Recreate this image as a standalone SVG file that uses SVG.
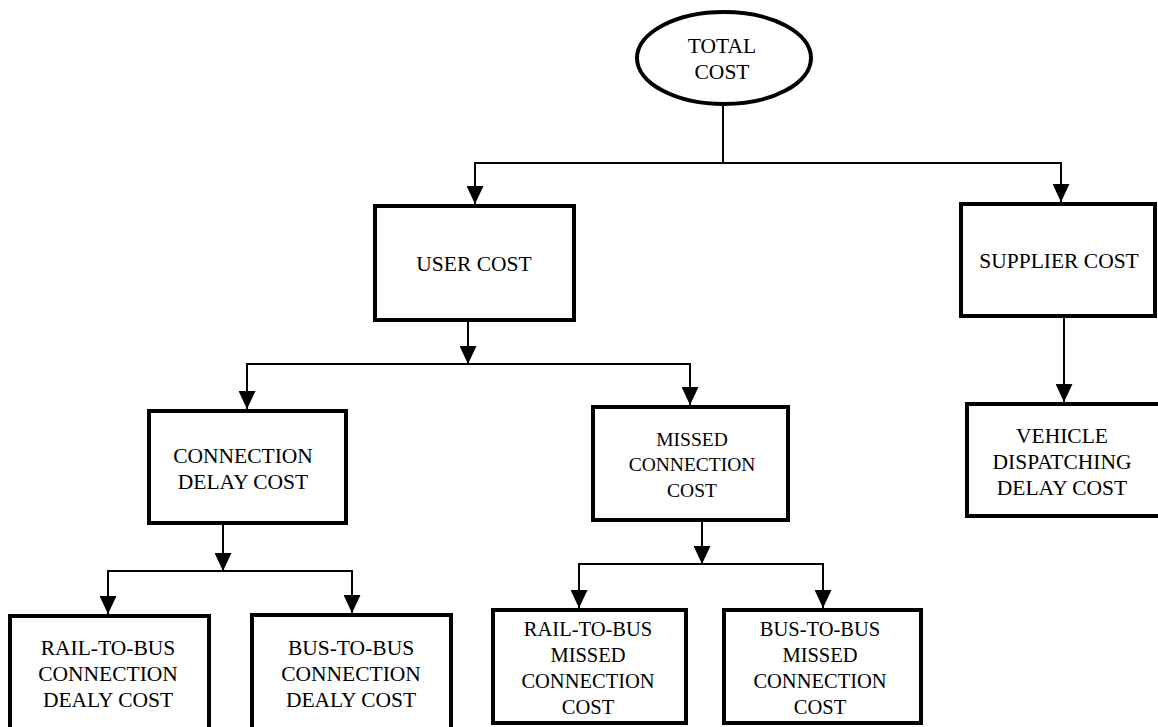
<svg xmlns="http://www.w3.org/2000/svg" width="1158" height="727" viewBox="0 0 1158 727" font-family="'Liberation Serif', 'Times New Roman', Times, serif">
  <style>
    .box { fill: #ffffff; stroke: #000000; stroke-width: 4; }
    .wire { fill: none; stroke: #000000; stroke-width: 2; }
    text { font-family: 'Liberation Serif', 'Times New Roman', Times, serif; }
    .lbl { font-size: 21.5px; fill: #000000; text-anchor: middle; }
    .sm { font-size: 19.5px; }
    .md { font-size: 20.5px; }
  </style>
  <defs>
    <marker id="arrow" viewBox="0 0 18 17" refX="18" refY="8.5" markerWidth="18" markerHeight="17" markerUnits="userSpaceOnUse" orient="auto">
      <path d="M0,0 L18,8.5 L0,17 z" fill="#000000"/>
    </marker>
  </defs>
  <rect width="1158" height="727" fill="#ffffff"/>

  <!-- connectors -->
  <g id="connectors">
    <path class="wire" d="M723,106 V163"/>
    <path class="wire" d="M723,163 H475 V204" marker-end="url(#arrow)"/>
    <path class="wire" d="M723,163 H1061 V202" marker-end="url(#arrow)"/>

    <path class="wire" d="M468,322 V364" marker-end="url(#arrow)"/>
    <path class="wire" d="M468,364 H247 V409" marker-end="url(#arrow)"/>
    <path class="wire" d="M468,364 H690 V405" marker-end="url(#arrow)"/>

    <path class="wire" d="M223,525 V571" marker-end="url(#arrow)"/>
    <path class="wire" d="M223,571 H108 V614" marker-end="url(#arrow)"/>
    <path class="wire" d="M223,571 H352 V613" marker-end="url(#arrow)"/>

    <path class="wire" d="M702,522 V564" marker-end="url(#arrow)"/>
    <path class="wire" d="M702,564 H579 V608" marker-end="url(#arrow)"/>
    <path class="wire" d="M702,564 H823 V608" marker-end="url(#arrow)"/>

    <path class="wire" d="M1064,318 V402" marker-end="url(#arrow)"/>
  </g>

  <!-- nodes -->
  <g id="total-cost">
    <ellipse class="box" cx="724" cy="58" rx="87" ry="46"/>
    <text class="lbl" x="722" y="53">TOTAL</text>
    <text class="lbl" x="722" y="79">COST</text>
  </g>

  <g id="user-cost">
    <rect class="box" x="375" y="206" width="199" height="114"/>
    <text class="lbl" x="474" y="271">USER COST</text>
  </g>

  <g id="supplier-cost">
    <rect class="box" x="961" y="204" width="194" height="112"/>
    <text class="lbl" x="1059" y="268">SUPPLIER COST</text>
  </g>

  <g id="vehicle-dispatching-delay-cost">
    <rect class="box" x="967" y="404" width="210" height="112"/>
    <text class="lbl" x="1062" y="443">VEHICLE</text>
    <text class="lbl" x="1062" y="469">DISPATCHING</text>
    <text class="lbl" x="1062" y="495">DELAY COST</text>
  </g>

  <g id="connection-delay-cost">
    <rect class="box" x="149" y="411" width="197" height="112"/>
    <text class="lbl" x="243" y="463">CONNECTION</text>
    <text class="lbl" x="243" y="489">DELAY COST</text>
  </g>

  <g id="missed-connection-cost">
    <rect class="box" x="593" y="407" width="195" height="113"/>
    <text class="lbl sm" x="692" y="446">MISSED</text>
    <text class="lbl sm" x="692" y="471">CONNECTION</text>
    <text class="lbl sm" x="692" y="497">COST</text>
  </g>

  <g id="rail-to-bus-connection-delay-cost">
    <rect class="box" x="10" y="616" width="199" height="130"/>
    <text class="lbl" x="108" y="655">RAIL-TO-BUS</text>
    <text class="lbl" x="108" y="681">CONNECTION</text>
    <text class="lbl" x="108" y="707">DEALY COST</text>
  </g>

  <g id="bus-to-bus-connection-delay-cost">
    <rect class="box" x="252" y="615" width="199" height="130"/>
    <text class="lbl" x="351" y="655">BUS-TO-BUS</text>
    <text class="lbl" x="351" y="681">CONNECTION</text>
    <text class="lbl" x="351" y="707">DEALY COST</text>
  </g>

  <g id="rail-to-bus-missed-connection-cost">
    <rect class="box" x="493" y="610" width="193" height="113"/>
    <text class="lbl md" x="588" y="636">RAIL-TO-BUS</text>
    <text class="lbl md" x="588" y="662">MISSED</text>
    <text class="lbl md" x="588" y="688">CONNECTION</text>
    <text class="lbl md" x="588" y="714">COST</text>
  </g>

  <g id="bus-to-bus-missed-connection-cost">
    <rect class="box" x="724" y="610" width="197" height="113"/>
    <text class="lbl md" x="820" y="636">BUS-TO-BUS</text>
    <text class="lbl md" x="820" y="662">MISSED</text>
    <text class="lbl md" x="820" y="688">CONNECTION</text>
    <text class="lbl md" x="820" y="714">COST</text>
  </g>
</svg>
